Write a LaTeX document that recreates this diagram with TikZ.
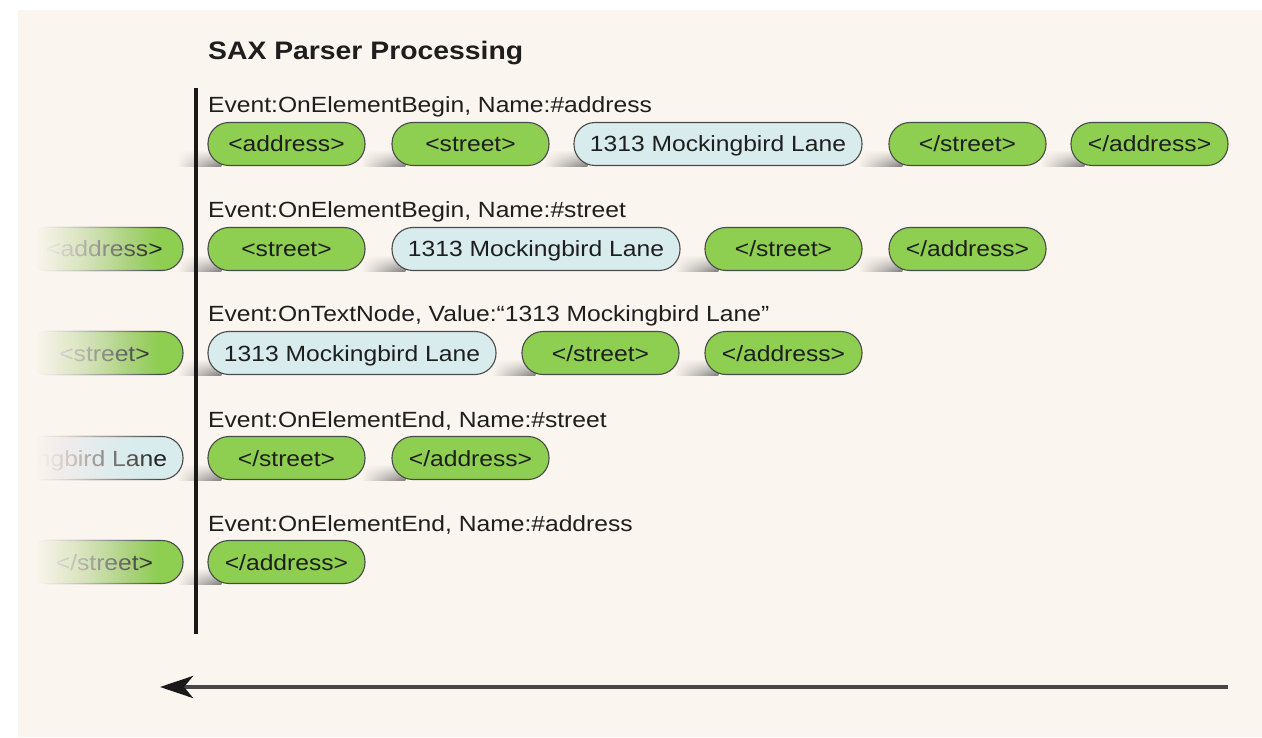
\documentclass[tikz,border=0pt]{standalone}
\usepackage{fontspec}
\setmainfont{Liberation Sans}[FakeStretch=1.12]
\usetikzlibrary{arrows.meta,fadings,calc}

\definecolor{pagebg}{HTML}{FAF5EE}
\definecolor{tagfill}{HTML}{8ECF52}
\definecolor{textfill}{HTML}{D9ECED}
\definecolor{pilledge}{HTML}{4A4A4A}
\definecolor{ink}{HTML}{1E1E1E}

% soft top edge for the smears under the pills
\tikzfading[name=softtop, top color=transparent!100, bottom color=transparent!0]

\pgfdeclarelayer{paper}
\pgfdeclarelayer{shadows}
\pgfsetlayers{paper,shadows,main}

\tikzset{
  pill/.style={draw=pilledge, line width=1.1pt, rounded corners=21pt,
    minimum height=43pt, inner sep=0pt, text height=16pt, text depth=0pt,
    font=\fontsize{22}{26}\selectfont, text=ink},
  tag/.style={pill, fill=tagfill, minimum width=157pt},
  txt/.style={pill, fill=textfill, minimum width=288pt},
  evlabel/.style={anchor=base west, inner sep=0pt,
    font=\fontsize{22}{26}\selectfont, text=ink},
  pillshade/.style={left color=pagebg, right color=black!50, path fading=softtop},
}

% soft smear at the lower left of a pill
\newcommand\smear[1]{%
  \shade[pillshade] ($(#1.south west)+(-30,-16)$) rectangle ($(#1.south west)+(14,0)$);}

\begin{document}
\begin{tikzpicture}[x=1pt,y=-1pt]
  \useasboundingbox (0,0) rectangle (1262,738);
  \begin{pgfonlayer}{paper}
    \fill[white] (0,0) rectangle (1262,738);
    \fill[pagebg] (18,10) rectangle (1262,737);
  \end{pgfonlayer}

  \node[anchor=base west, inner sep=0pt, text=ink,
        font=\bfseries\fontsize{25.3}{30}\selectfont] (title) at (208,60) {SAX Parser Processing};

  % row 1
  \node[evlabel] (e1) at (208,113) {Event:OnElementBegin, Name:\#address};
  \node[tag] (r1a) at (286.5,144) {<address>};
  \node[tag] (r1b) at (470.5,144) {<street>};
  \node[txt] (r1c) at (718,144) {1313 Mockingbird Lane};
  \node[tag] (r1d) at (967.5,144) {</street>};
  \node[tag] (r1e) at (1149.5,144) {</address>};

  % row 2
  \node[evlabel] (e2) at (208,218) {Event:OnElementBegin, Name:\#street};
  \node[tag] (r2a) at (286.5,249) {<street>};
  \node[txt] (r2b) at (536,249) {1313 Mockingbird Lane};
  \node[tag] (r2c) at (783.5,249) {</street>};
  \node[tag] (r2d) at (967.5,249) {</address>};

  % row 3
  \node[evlabel] (e3) at (208,322) {Event:OnTextNode, Value:“1313 Mockingbird Lane”};
  \node[txt] (r3a) at (352,353) {1313 Mockingbird Lane};
  \node[tag] (r3b) at (600.5,353) {</street>};
  \node[tag] (r3c) at (783.5,353) {</address>};

  % row 4
  \node[evlabel] (e4) at (208,427) {Event:OnElementEnd, Name:\#street};
  \node[tag] (r4a) at (286.5,458) {</street>};
  \node[tag] (r4b) at (470.5,458) {</address>};

  % row 5
  \node[evlabel] (e5) at (208,531) {Event:OnElementEnd, Name:\#address};
  \node[tag] (r5a) at (286.5,562) {</address>};

  % items already consumed, sliding out to the left
  \begin{scope}
    \clip (18,0) rectangle (196,738);
    \node[tag] (g2) at (104.5,249) {<address>};
    \node[tag] (g3) at (104.5,353) {<street>};
    \node[txt] (g4) at (39,458) {1313 Mockingbird Lane};
    \node[tag] (g5) at (104.5,562) {</street>};
    % nested paper-coloured veils; what stays visible falls off as t^1.4
    \foreach \j in {1,...,61}{
      \pgfmathsetmacro\veilop{1-((62-\j-1)/(62-\j))^1.4}
      \pgfmathsetmacro\veilx{159-2*\j}
      \fill[pagebg, opacity=\veilop] (18,220) rectangle (\veilx,590);
    }
  \end{scope}

  \begin{pgfonlayer}{shadows}
    \foreach \p in {r1a,r1b,r1c,r1d,r1e,r2a,r2b,r2c,r2d,r3a,r3b,r3c,r4a,r4b,r5a}
      \smear{\p};
  \end{pgfonlayer}

  % parser position
  \coordinate (axtop) at (196,88);
  \coordinate (axbot) at (196,634);
  \draw[line width=3.5pt, black!90] (axtop) -- (axbot);

  % direction of the stream
  \coordinate (flowstart) at (1228,687);
  \coordinate (flowend) at (160,687);
  \draw[line width=4pt, draw=black!72,
        -{Stealth[length=33pt,width=22pt,inset=9pt,color=black!90]}] (flowstart) -- (flowend);
\end{tikzpicture}
\end{document}
